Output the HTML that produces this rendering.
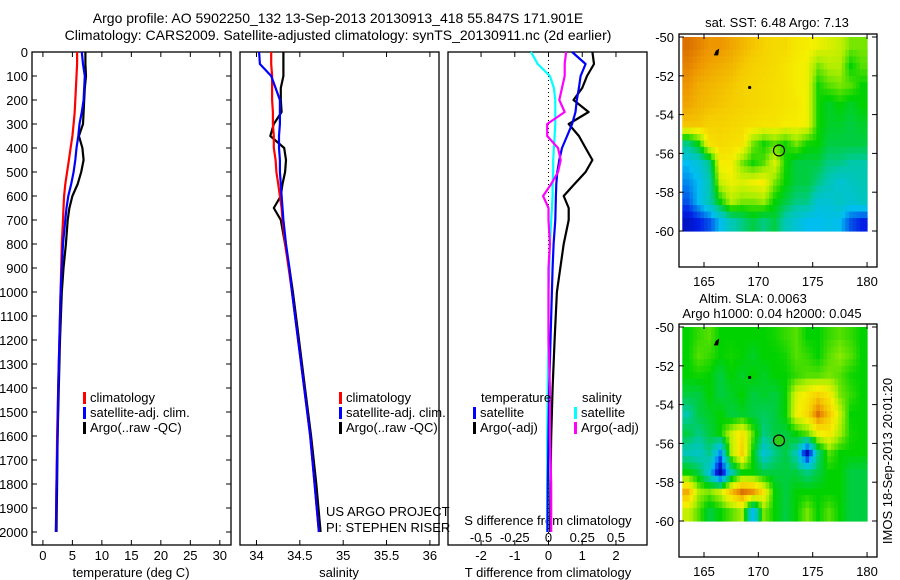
<!DOCTYPE html>
<html><head><meta charset="utf-8"><style>
html,body{margin:0;padding:0;background:#fff;}
svg{display:block;font-family:"Liberation Sans",sans-serif;}
</style></head><body>
<svg id="fig" width="900" height="580" viewBox="0 0 900 580" xmlns="http://www.w3.org/2000/svg">
<text x="338" y="23" font-size="14" text-anchor="middle">Argo profile: AO 5902250_132 13-Sep-2013 20130913_418 55.847S 171.901E</text>
<text x="338" y="40" font-size="14" text-anchor="middle">Climatology: CARS2009. Satellite-adjusted climatology: synTS_20130911.nc (2d earlier)</text>
<g id="g"></g>
</svg>
<script>
const depths = [0,50,100,150,200,250,300,350,400,450,500,550,600,650,700,800,900,1000,1200,1400,1600,1800,2000];
const climT = [5.8,5.8,5.7,5.6,5.5,5.4,5.2,5.0,4.7,4.4,4.1,3.8,3.6,3.5,3.4,3.2,3.1,3.0,2.8,2.6,2.4,2.3,2.2];
const satT  = [6.6,6.8,7.1,7.0,6.9,6.6,6.2,6.0,5.7,5.5,5.2,4.8,4.3,4.0,3.8,3.4,3.2,3.0,2.8,2.6,2.5,2.3,2.2];
const argoT = [7.2,7.2,7.3,7.1,7.0,6.9,6.8,6.1,6.7,6.9,6.5,5.9,5.0,4.5,4.2,3.9,3.5,3.2,2.9,2.7,2.5,2.4,2.3];
const climS = [34.17,34.17,34.18,34.18,34.18,34.19,34.19,34.2,34.2,34.22,34.23,34.25,34.27,34.29,34.3,34.33,34.37,34.41,34.48,34.55,34.62,34.67,34.72];
const satS  = [34.03,34.04,34.17,34.22,34.27,34.27,34.27,34.26,34.26,34.27,34.27,34.28,34.29,34.3,34.31,34.34,34.38,34.41,34.48,34.55,34.62,34.67,34.72];
const argoS = [34.31,34.31,34.31,34.28,34.28,34.29,34.2,34.16,34.32,34.34,34.33,34.3,34.28,34.2,34.28,34.33,34.38,34.42,34.49,34.56,34.63,34.69,34.74];
const tDiffSat  = [0.7,1.1,0.95,0.9,0.84,0.8,0.7,0.55,0.4,0.32,0.26,0.23,0.22,0.21,0.2,0.15,0.12,0.1,0.06,0.02,0,-0.02,-0.03];
const tDiffArgo = [1.3,1.35,1.14,1.0,0.74,1.19,0.6,0.9,1.1,1.3,1.1,0.77,0.45,0.6,0.6,0.45,0.35,0.25,0.18,0.12,0.08,0.06,0.05];
const sDiffSat  = [-0.13,-0.08,0.01,0.04,0.05,0.05,0.05,0.045,0.04,0.035,0.035,0.03,0.03,0.025,0.02,0.01,0.005,0,0,-0.005,-0.01,-0.01,-0.01];
const sDiffArgo = [0.13,0.12,0.12,0.1,0.08,0.12,-0.01,-0.01,0.07,0.09,0.07,0.02,-0.04,0.0,0.0,0.01,0.0,0.0,0.0,0.01,0.01,0.02,0.02];
const depthTicks = [0,100,200,300,400,500,600,700,800,900,1000,1100,1200,1300,1400,1500,1600,1700,1800,1900,2000];
const tempTicks = [0,5,10,15,20,25,30];
const salTicks = [34,34.5,35,35.5,36];
const tdTicks = [-2,-1,0,1,2];
const sdTicks = [-0.5,-0.25,0,0.25,0.5];
const mapLats = [-50,-52,-54,-56,-58,-60];
const mapLons = [165,170,175,180];
const sst = [
[0.92,0.9,0.88,0.88,0.86,0.84,0.82,0.8,0.78,0.78,0.75,0.74,0.72,0.7,0.68,0.62,0.62],
[0.9,0.88,0.86,0.85,0.84,0.82,0.8,0.79,0.78,0.76,0.74,0.72,0.62,0.66,0.66,0.55,0.6],
[0.88,0.85,0.84,0.83,0.82,0.8,0.79,0.78,0.77,0.76,0.74,0.72,0.56,0.6,0.62,0.6,0.55],
[0.86,0.84,0.83,0.82,0.81,0.8,0.79,0.78,0.77,0.76,0.75,0.72,0.56,0.52,0.55,0.52,0.55],
[0.82,0.82,0.8,0.8,0.79,0.78,0.77,0.76,0.76,0.74,0.74,0.72,0.56,0.52,0.52,0.5,0.52],
[0.45,0.55,0.76,0.78,0.77,0.76,0.62,0.56,0.6,0.56,0.62,0.56,0.55,0.5,0.5,0.5,0.5],
[0.3,0.35,0.45,0.74,0.74,0.62,0.56,0.6,0.7,0.56,0.5,0.5,0.5,0.45,0.45,0.42,0.42],
[0.25,0.3,0.4,0.68,0.72,0.7,0.72,0.74,0.62,0.55,0.5,0.5,0.45,0.4,0.35,0.38,0.4],
[0.2,0.3,0.4,0.55,0.66,0.62,0.62,0.64,0.55,0.5,0.45,0.45,0.35,0.35,0.38,0.35,0.38],
[0.1,0.15,0.2,0.3,0.4,0.45,0.5,0.45,0.5,0.4,0.35,0.3,0.3,0.32,0.3,0.2,0.15]];
const sla = [
[0.55,0.58,0.6,0.55,0.55,0.55,0.55,0.55,0.56,0.58,0.6,0.55,0.55,0.58,0.6,0.58,0.55],
[0.55,0.6,0.58,0.55,0.56,0.55,0.52,0.55,0.55,0.56,0.6,0.58,0.55,0.6,0.63,0.6,0.55],
[0.55,0.56,0.55,0.5,0.55,0.52,0.55,0.52,0.55,0.55,0.58,0.6,0.6,0.62,0.6,0.56,0.55],
[0.5,0.5,0.55,0.5,0.52,0.55,0.5,0.52,0.5,0.55,0.7,0.75,0.8,0.75,0.62,0.58,0.55],
[0.42,0.5,0.52,0.55,0.5,0.52,0.5,0.48,0.5,0.55,0.72,0.78,0.92,0.82,0.68,0.55,0.55],
[0.5,0.45,0.5,0.55,0.68,0.76,0.6,0.45,0.5,0.5,0.55,0.6,0.72,0.75,0.65,0.56,0.55],
[0.4,0.38,0.45,0.25,0.65,0.8,0.55,0.35,0.45,0.5,0.4,0.08,0.45,0.6,0.55,0.55,0.55],
[0.55,0.5,0.35,0.05,0.4,0.55,0.55,0.5,0.5,0.5,0.5,0.45,0.5,0.55,0.55,0.5,0.5],
[0.85,0.65,0.62,0.68,0.82,0.92,0.88,0.76,0.55,0.5,0.55,0.55,0.55,0.55,0.55,0.5,0.5],
[0.68,0.6,0.5,0.55,0.6,0.65,0.3,0.62,0.55,0.5,0.55,0.62,0.55,0.6,0.55,0.5,0.5]];
const argoLon = 171.9, argoLat = -55.85;

const NS="http://www.w3.org/2000/svg";
const G=document.getElementById('g');
function mk(tag,at,parent){const e=document.createElementNS(NS,tag);for(const k in at)e.setAttribute(k,at[k]);(parent||G).appendChild(e);return e;}
function tx(x,y,s,at){const e=mk('text',Object.assign({x:x,y:y,'font-size':12},at||{}));e.textContent=s;return e;}

const yD=d=>52+d*0.24;
const panels=[
 {x0:32,x1:231,lo:-1.85,hi:31.9,name:'temperature'},
 {x0:240,x1:439,lo:33.81,hi:36.105,name:'salinity'},
 {x0:448,x1:647,lo:-2.98,hi:2.92,name:'difference'}];
const px=(p,v)=>p.x0+(v-p.lo)/(p.hi-p.lo)*(p.x1-p.x0);
const TOP=52,BOT=545;

panels.forEach((p,i)=>{
 const r=mk('rect',{x:p.x0,y:TOP,width:p.x1-p.x0,height:BOT-TOP,fill:'none',stroke:'#000','stroke-width':1.3});
 
 
});
depthTicks.forEach(d=>{
 const t=tx(28,yD(d)+5,String(d),{'text-anchor':'end','font-size':13});
 
 
 mk('line',{x1:32,x2:37,y1:yD(d),y2:yD(d),stroke:'#000'});
 mk('line',{x1:226,x2:231,y1:yD(d),y2:yD(d),stroke:'#000'});
});
function xticks(p,ticks,y,lbl){
 ticks.forEach(v=>{const x=px(p,v);
  mk('line',{x1:x,x2:x,y1:TOP,y2:TOP+5,stroke:'#000'});
  mk('line',{x1:x,x2:x,y1:BOT,y2:BOT-5,stroke:'#000'});
  const t=tx(x,y,String(v),{'text-anchor':'middle','font-size':13});
  
  
 });
}
xticks(panels[0],tempTicks,560,'temperature-tick-label');
xticks(panels[1],salTicks,560,'salinity-tick-label');
xticks(panels[2],tdTicks,560,'t-diff-tick-label');
const sp={x0:448,x1:647,lo:panels[2].lo/4,hi:panels[2].hi/4};
sdTicks.forEach(v=>{const t=tx(px(sp,v),542,String(v),{'text-anchor':'middle','font-size':13});
 
 });
[['temperature (deg C)',131,'temperature-axis-title'],['salinity',339,'salinity-axis-title'],['T difference from climatology',548,'t-diff-axis-title']].forEach(a=>{
 const t=tx(a[1],577,a[0],{'text-anchor':'middle','font-size':13});
 
 });
{const t=tx(548,525,'S difference from climatology',{'text-anchor':'middle','font-size':13});
 
 }
{const z=px(panels[2],0);const l=mk('line',{x1:z,x2:z,y1:TOP,y2:BOT,stroke:'#000','stroke-dasharray':'1,3'});
 
 }

function line(p,vals,col,name,scale){
 const pts=[];vals.forEach((v,i)=>{if(v!=null)pts.push(px(p,v*(scale||1)).toFixed(1)+','+yD(depths[i]).toFixed(1));});
 const e=mk('polyline',{points:pts.join(' '),fill:'none',stroke:col,'stroke-width':2.2,'stroke-linejoin':'round'});
 
 
}
line(panels[0],argoT,'#000','argo-temperature-line');
line(panels[0],climT,'#f00','climatology-temperature-line');
line(panels[0],satT,'#00f','satellite-temperature-line');
line(panels[1],argoS,'#000','argo-salinity-line');
line(panels[1],climS,'#f00','climatology-salinity-line');
line(panels[1],satS,'#00f','satellite-salinity-line');
line(panels[2],tDiffArgo,'#000','argo-t-diff-line');
line(panels[2],sDiffSat,'#0ff','satellite-s-diff-line',4);
line(panels[2],tDiffSat,'#00f','satellite-t-diff-line');
line(panels[2],sDiffArgo,'#f0f','argo-s-diff-line',4);

function leg(x,y,col,label,name){
 const g=mk('g',{});
 
 
 mk('rect',{x:x,y:y-10,width:3,height:12,fill:col},g);
 const t=mk('text',{x:x+7,y:y,'font-size':13},g);t.textContent=label;
}
[[83,'climatology-legend'],[339,'salinity-climatology-legend']].forEach((a,k)=>{
 leg(a[0],402,'#f00','climatology',a[1]);
 leg(a[0],417,'#00f','satellite-adj. clim.','satellite-legend-'+k);
 leg(a[0],432,'#000','Argo(..raw -QC)','argo-legend-'+k);
});
{const t=tx(481,402,'temperature',{'font-size':13});
 const s=tx(582,402,'salinity',{'font-size':13});}
leg(473,417,'#00f','satellite','t-satellite-legend');
leg(473,432,'#000','Argo(-adj)','t-argo-legend');
leg(574,417,'#0ff','satellite','s-satellite-legend');
leg(574,432,'#f0f','Argo(-adj)','s-argo-legend');
{const a=tx(326,516,'US ARGO PROJECT',{'font-size':13});
 const b=tx(326,532,'PI: STEPHEN RISER',{'font-size':13});}

const stops=[[0,[0,0,130]],[0.15,[0,30,230]],[0.3,[0,190,240]],[0.42,[0,200,170]],[0.55,[0,210,0]],[0.65,[170,238,0]],[0.73,[245,240,0]],[0.81,[245,205,0]],[0.88,[238,150,0]],[0.95,[205,85,0]],[1,[150,40,0]]];
function cmap(v){for(let i=1;i<stops.length;i++){if(v<=stops[i][0]){const a=stops[i-1],b=stops[i],t=(v-a[0])/(b[0]-a[0]);return 'rgb('+a[1].map((c,j)=>Math.round(c+(b[1][j]-c)*t)).join(',')+')';}}return 'rgb(150,40,0)';}
function sample(grid,gr,gc){
 const R=grid.length,C=grid[0].length;
 gr=Math.max(0,Math.min(R-1,gr));gc=Math.max(0,Math.min(C-1,gc));
 const r0=Math.floor(gr),c0=Math.floor(gc),r1=Math.min(R-1,r0+1),c1=Math.min(C-1,c0+1),fr=gr-r0,fc=gc-c0;
 return grid[r0][c0]*(1-fr)*(1-fc)+grid[r0][c1]*(1-fr)*fc+grid[r1][c0]*fr*(1-fc)+grid[r1][c1]*fr*fc;
}
function drawMap(top,grid,name,fillCircle){
 const mx=lon=>704+(lon-165)*10.87;
 const my=lat=>top+3+(-50-lat)*19.4;
 const g=mk('g',{});
 
 
 const SUB=3,R=grid.length,C=grid[0].length;
 for(let r=0;r<R*SUB;r++)for(let c=0;c<C*SUB;c++){
  const v=sample(grid,(r+0.5)/SUB-0.5,(c+0.5)/SUB-0.5);
  const x=mx(163+c/SUB),y=my(-50-r/SUB);
  const cell=mk('rect',{x:x.toFixed(1),y:y.toFixed(1),width:(10.87/SUB+0.6).toFixed(2),height:(19.4/SUB+0.6).toFixed(2),fill:cmap(v)},g);
  
  
 }
 const fr=mk('rect',{x:679,y:top,width:198,height:233,fill:'none',stroke:'#000','stroke-width':1.3});
 
 
 mapLats.forEach(l=>{const y=my(l);mk('line',{x1:679,x2:684,y1:y,y2:y,stroke:'#000'});mk('line',{x1:872,x2:877,y1:y,y2:y,stroke:'#000'});
  const t=tx(674,y+5,String(l),{'text-anchor':'end','font-size':13});});
 mapLons.forEach(l=>{const x=mx(l);mk('line',{x1:x,x2:x,y1:top,y2:top+5,stroke:'#000'});mk('line',{x1:x,x2:x,y1:top+233,y2:top+228,stroke:'#000'});
  const t=tx(x,top+252,String(l),{'text-anchor':'middle','font-size':13});});
 mk('polygon',{points:[[mx(165.9),my(-50.95)],[mx(166.3),my(-50.95)],[mx(166.4),my(-50.6)],[mx(166.1),my(-50.7)]].map(p=>p.join(',')).join(' '),fill:'#000'});
 mk('circle',{cx:mx(169.2),cy:my(-52.6),r:1.6,fill:'#000'});
 const c=mk('circle',{cx:mx(argoLon),cy:my(argoLat),r:5.5,fill:fillCircle?'#2ecc1a':'none',stroke:'#000','stroke-width':1.2});
 
 
}
drawMap(34,sst,'sst-map',false);
drawMap(324,sla,'sla-map',true);
{const a=tx(777,27,'sat. SST: 6.48 Argo: 7.13',{'text-anchor':'middle','font-size':13});
 const b=tx(753,303,'Altim. SLA: 0.0063',{'text-anchor':'middle','font-size':13});
 const c=tx(772,318,'Argo h1000: 0.04 h2000: 0.045',{'text-anchor':'middle','font-size':13});
 const d=tx(0,0,'IMOS 18-Sep-2013 20:01:20',{'text-anchor':'middle','font-size':13,transform:'translate(892,461) rotate(-90)'});}
</script>
</body></html>
